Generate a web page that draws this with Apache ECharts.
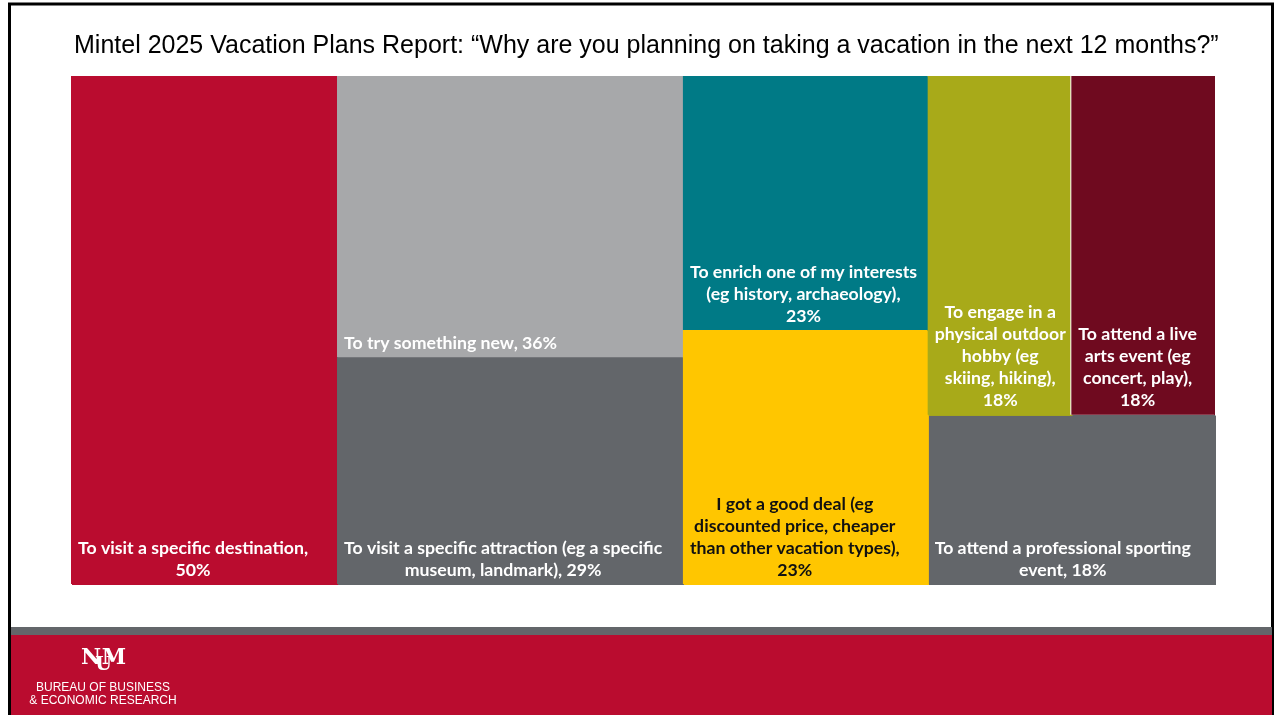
<!DOCTYPE html>
<html><head><meta charset="utf-8">
<script src="https://cdn.jsdelivr.net/npm/echarts@6/dist/echarts.min.js"></script>
<style>html,body{margin:0;padding:0;background:#fff}#c{width:1277px;height:715px}</style>
</head><body><div id="c"></div>
<script>
const titleText = 'Mintel 2025 Vacation Plans Report: \u201CWhy are you planning on taking a vacation in the next 12 months?\u201D';
const names = [
  'To visit a specific destination',
  'To try something new',
  'To visit a specific attraction (eg a specific museum, landmark)',
  'To enrich one of my interests (eg history, archaeology)',
  'I got a good deal (eg discounted price, cheaper than other vacation types)',
  'To engage in a physical outdoor hobby (eg skiing, hiking)',
  'To attend a live arts event (eg concert, play)',
  'To attend a professional sporting event'
];
const values = [50, 36, 29, 23, 23, 18, 18, 18];
const labelTemplates = [
  'To visit a specific destination,\n{v}%',
  'To try something new, {v}%',
  'To visit a specific attraction (eg a specific\nmuseum, landmark), {v}%',
  'To enrich one of my interests\n(eg history, archaeology),\n{v}%',
  'I got a good deal (eg\ndiscounted price, cheaper\nthan other vacation types),\n{v}%',
  'To engage in a\nphysical outdoor\nhobby (eg\nskiing, hiking),\n{v}%',
  'To attend a live\narts event (eg\nconcert, play),\n{v}%',
  'To attend a professional sporting\nevent, {v}%'
];
const colors = ['#BA0C2F', '#A7A8AA', '#63666A', '#007A86', '#FFC600', '#A8AA19', '#6F0A1F', '#63666A'];
const labelColors = ['#ffffff', '#ffffff', '#ffffff', '#ffffff', '#111111', '#ffffff', '#ffffff', '#ffffff'];

const LABEL_FONT_SIZE = 17.7;
const LABEL_FONT = 'Lato';
const PAD_X = 7, PAD_B = 3;
const WHITE_LEFT_EDGE = 6; // cell drawn with a thin white separator on its left side
const ctx = document.createElement('canvas').getContext('2d');
ctx.font = 'bold ' + LABEL_FONT_SIZE + 'px ' + LABEL_FONT;
function blockWidth(t) { return Math.max.apply(null, t.split('\n').map(s => ctx.measureText(s).width)); }

function leaf(i) {
  const text = labelTemplates[i].replace('{v}', values[i]);
  const w = blockWidth(text);
  const sep = i === WHITE_LEFT_EDGE;
  return {
    name: names[i], value: values[i],
    itemStyle: {
      color: colors[i], borderColor: colors[i],
      shadowBlur: 0,
      shadowColor: sep ? '#ffffff' : colors[i],
      shadowOffsetX: sep ? -1 : 1,
      shadowOffsetY: sep ? 0 : 1
    },
    label: { color: labelColors[i], formatter: () => text, offset: [PAD_X + w / 2, -PAD_B] }
  };
}

const data = [
  leaf(0),
  { name: 'g1', children: [
    { name: 'g1a', children: [leaf(1), leaf(2)] },
    { name: 'g1b', children: [leaf(3), leaf(4)] }
  ] },
  { name: 'g2', children: [
    { name: 'g2a', children: [leaf(5), leaf(6)] },
    leaf(7)
  ] }
];

const chart = echarts.init(document.getElementById('c'), null, { renderer: 'canvas' });
chart.setOption({
  backgroundColor: '#ffffff',
  animation: false,
  title: {
    text: titleText, left: 74, top: 34, padding: 0,
    textStyle: { fontFamily: 'Liberation Sans', fontSize: 25, fontWeight: 'normal', color: '#000' }
  },
  graphic: [
    { type: 'rect', shape: { x: 9.5, y: 4, width: 1263, height: 730 }, style: { fill: 'none', stroke: '#000', lineWidth: 3 } },
    { type: 'rect', shape: { x: 11, y: 627, width: 1261, height: 8 }, style: { fill: '#63666A' } },
    { type: 'rect', shape: { x: 11, y: 635, width: 1261, height: 80 }, style: { fill: '#BA0C2F' } },
    { type: 'text', x: 91, y: 658, style: { text: 'N', font: 'bold 22px "DejaVu Serif"', fill: '#fff', align: 'center', verticalAlign: 'middle' } },
    { type: 'text', x: 114, y: 658, style: { text: 'M', font: 'bold 22px "DejaVu Serif"', fill: '#fff', align: 'center', verticalAlign: 'middle' } },
    { type: 'text', x: 103.5, y: 665, style: { text: 'U', font: 'bold 19px "DejaVu Serif"', fill: '#fff', align: 'center', verticalAlign: 'middle' } },
    { type: 'text', x: 103, y: 688, style: { text: 'BUREAU OF BUSINESS', font: '12px "Liberation Sans"', fill: '#fff', align: 'center', verticalAlign: 'middle' } },
    { type: 'text', x: 103, y: 701, style: { text: '& ECONOMIC RESEARCH', font: '12px "Liberation Sans"', fill: '#fff', align: 'center', verticalAlign: 'middle' } }
  ],
  series: [{
    type: 'treemap',
    left: 71, top: 76, width: 1144, height: 508,
    roam: false, nodeClick: false,
    breadcrumb: { show: false },
    sort: false,
    squareRatio: 1.28,
    itemStyle: { borderWidth: 0, gapWidth: 0, borderColor: 'rgba(0,0,0,0)' },
    upperLabel: { show: false },
    label: {
      show: true, position: 'insideBottomLeft', distance: 0, padding: 0,
      align: 'center', verticalAlign: 'bottom',
      fontFamily: LABEL_FONT, fontWeight: 'bold', fontSize: LABEL_FONT_SIZE, lineHeight: 22,
      overflow: 'none'
    },
    emphasis: { disabled: true },
    data: data
  }]
});
</script></body></html>
